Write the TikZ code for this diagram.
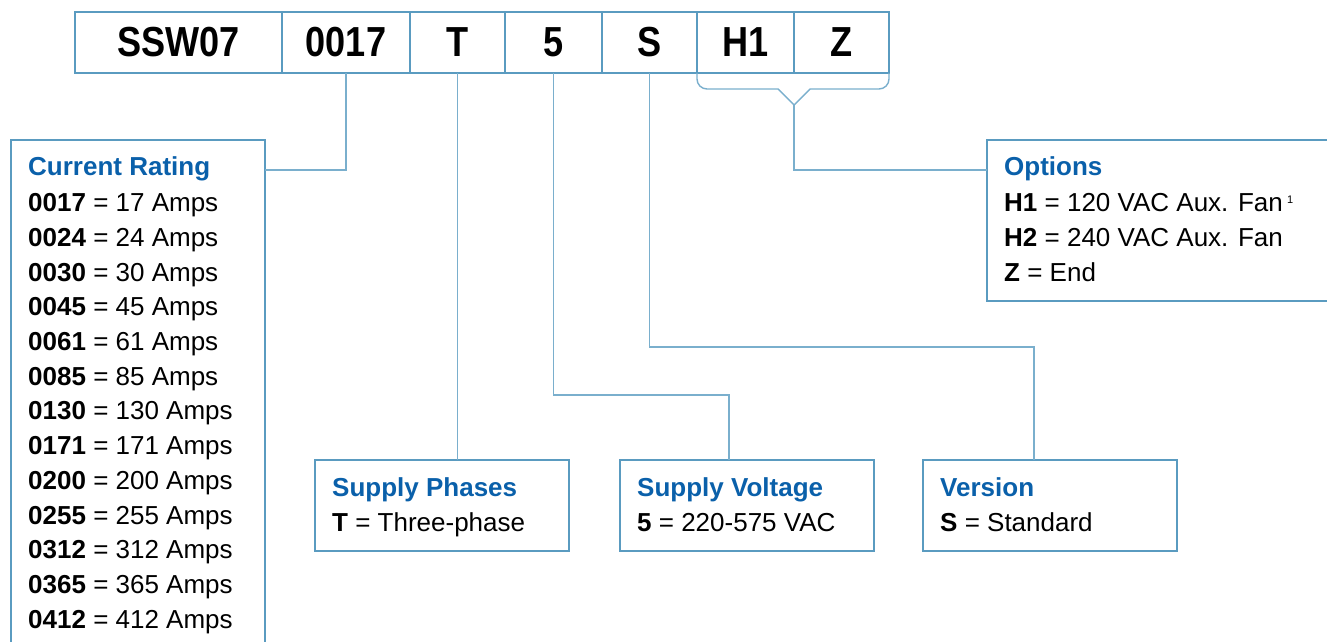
\documentclass[tikz,border=0pt]{standalone}
\usepackage{fontspec}
\setmainfont{Liberation Sans}
\newfontfamily\condfont[FakeStretch=0.86]{Liberation Sans}
\definecolor{bordc}{HTML}{5A9BC0}
\definecolor{linec}{HTML}{7AAFCD}
\definecolor{headc}{HTML}{0A60AA}
\begin{document}
\begin{tikzpicture}[x=1pt,y=-1pt,
  codebox/.style={draw=bordc, line width=2.8pt, minimum height=61pt, inner sep=0pt, outer sep=0pt,
    font=\condfont\bfseries\fontsize{42}{42}\selectfont},
  infobox/.style={draw=bordc, line width=2pt, inner sep=0pt, outer sep=0pt},
  txt/.style={anchor=base west, inner sep=0pt, font=\fontsize{26}{30}\selectfont},
  head/.style={txt, text=headc, font=\bfseries\fontsize{26}{30}\selectfont},
  conn/.style={draw=linec, line width=1.4pt}]
\useasboundingbox (0,0) rectangle (1327,642);

% code boxes
\node[codebox, minimum width=207pt] (cSSW) at (178.5,42.5) {SSW07};
\node[codebox, minimum width=128pt] (c0017) at (346,42.5) {0017};
\node[codebox, minimum width=95pt] (cT) at (457.5,42.5) {T};
\node[codebox, minimum width=97pt] (c5) at (553.5,42.5) {5};
\node[codebox, minimum width=95pt] (cS) at (649.5,42.5) {S};
\node[codebox, minimum width=97pt] (cH1) at (745.5,42.5) {H1};
\node[codebox, minimum width=95pt] (cZ) at (841.5,42.5) {Z};

% info boxes
\node[infobox, minimum width=254pt, minimum height=520pt] (crbox) at (138,400) {};
\node[infobox, minimum width=358pt, minimum height=161pt] (optbox) at (1166,220.5) {};
\node[infobox, minimum width=254pt, minimum height=91pt] (phbox) at (442,505.5) {};
\node[infobox, minimum width=254pt, minimum height=91pt] (vobox) at (746.5,505.5) {};
\node[infobox, minimum width=254pt, minimum height=91pt] (vebox) at (1050,505.5) {};

% current rating text
\node[head] (crh) at (28,175) {Current Rating};
\foreach \c/\a [count=\i from 0] in {0017/17,0024/24,0030/30,0045/45,0061/61,0085/85,0130/130,0171/171,0200/200,0255/255,0312/312,0365/365,0412/412}{
  \node[txt] (cr\i) at (28,{211.7+34.7*\i}) {\textbf{\c} = \a{} Amps};
}

% options text
\node[head] (oph) at (1004,175) {Options};
\node[txt] (op1) at (1004,211.7) {\textbf{H1} = 120 VAC Aux. Fan\,\raisebox{8pt}{\fontsize{11}{11}\selectfont 1}};
\node[txt] (op2) at (1004,246.7) {\textbf{H2} = 240 VAC Aux. Fan};
\node[txt] (op3) at (1004,281.7) {\textbf{Z} = End};

% lower boxes text
\node[head] (phh) at (332,496) {Supply Phases};
\node[txt] (ph1) at (332,531.7) {\textbf{T} = Three-phase};
\node[head] (voh) at (637,496) {Supply Voltage};
\node[txt] (vo1) at (637,531.7) {\textbf{5} = 220-575 VAC};
\node[head] (veh) at (940,496) {Version};
\node[txt] (ve1) at (940,531.7) {\textbf{S} = Standard};

% connectors
\coordinate (crjoin) at (265,170);
\draw[conn] (c0017.south) |- (crjoin);
\draw[conn] (cT.south) -- (cT.south |- phbox.north);
\coordinate (v5) at (729,395);
\draw[conn] (c5.south) |- (v5) -- (v5 |- vobox.north);
\coordinate (vS) at (1034,347);
\draw[conn] (cS.south) |- (vS) -- (vS |- vebox.north);

% brace under H1 / Z
\coordinate (brtip) at (794,105);
\draw[conn] (cH1.south west) -- (697,79) to[out=-90,in=180] (707,89) -- (778,89) -- (brtip) -- (810,89)
  -- (879,89) to[out=0,in=-90] (889,79) -- (cZ.south east);
\coordinate (opjoin) at (987,170);
\draw[conn] (brtip) |- (opjoin);
\end{tikzpicture}
\end{document}
